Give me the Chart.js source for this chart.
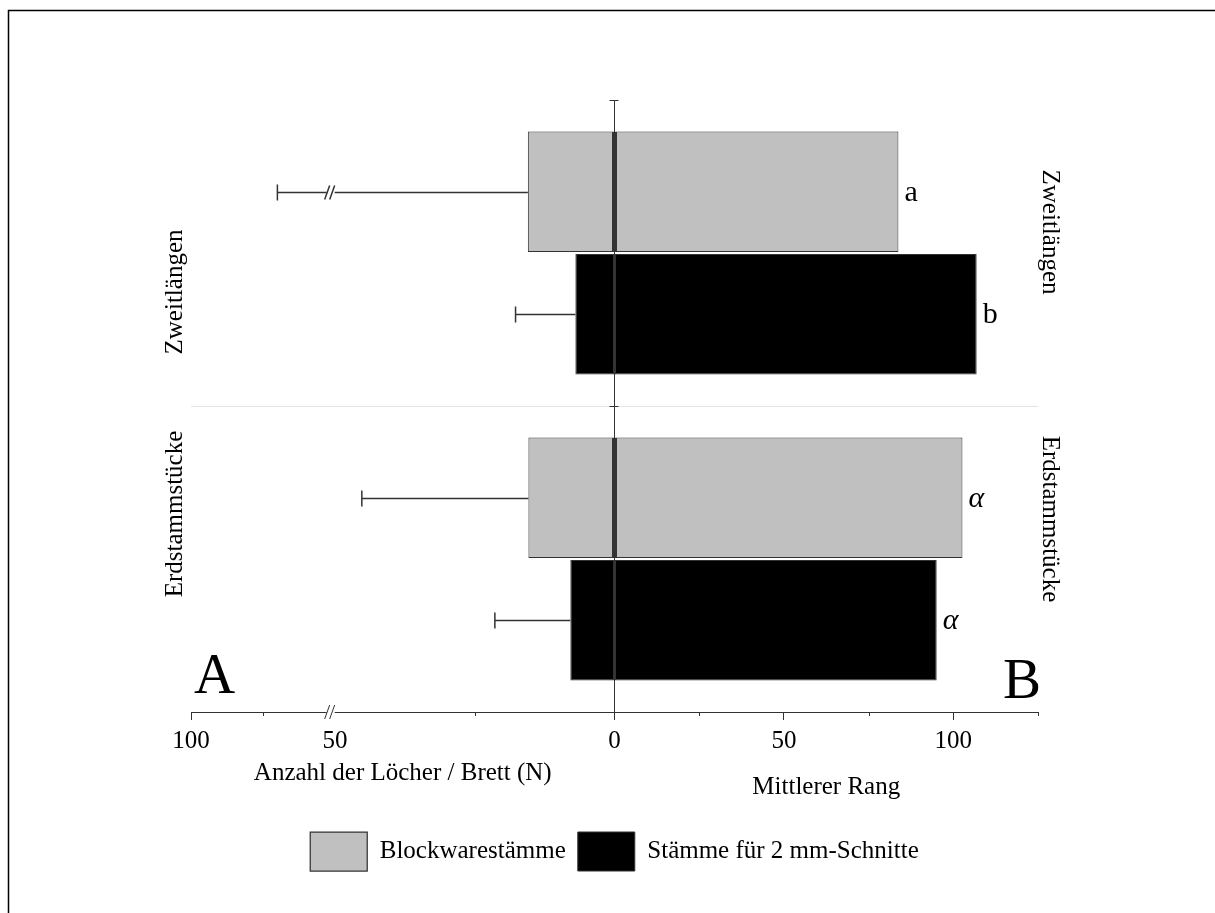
<!DOCTYPE html>
<html>
<head>
<meta charset="utf-8">
<script src="https://cdn.jsdelivr.net/npm/chart.js@4.4.1/dist/chart.umd.min.js"></script>
<style>
  html, body { margin: 0; padding: 0; background: #fff; }
  #wrap { width: 1215px; height: 913px; }
</style>
</head>
<body>
<div id="wrap"><canvas id="chart"></canvas></div>
<script>
// Gruppen
const groups = ["Zweitlängen", "Erdstammstücke"];
const seriesNames = ["Blockwarestämme", "Stämme für 2 mm-Schnitte"];

// links: Anzahl der Löcher / Brett (N), Mittelwert + Fehler
const holesBlock = [15.5, 15.4];
const holesBlockErr = [54.5, 29.8];
const holesSchnitt = [7.0, 7.9];
const holesSchnittErr = [10.7, 13.5];

// rechts: Mittlerer Rang
const rankBlock = [83.8, 102.7];
const rankSchnitt = [106.9, 95.1];

// Buchstaben an den Balken
const lettersBlock = ["a", "α"];
const lettersSchnitt = ["b", "α"];

// Achse (negativ = linke Seite)
const tickValues = [-100, -75, -50, -25, 0, 25, 50, 75, 100, 125];
const tickLabels = ["100", "", "50", "", "0", "", "50", "", "100", ""];
const axisBreak = -50;

const FONT = '"Liberation Serif", "Times New Roman", serif';
const DARK = "#333";

// geknickte Achse: Wert -> Anteil der Breite
const knots = [[-100, 0], [-50, 0.17], [0, 0.5], [125, 1]];
function toDecimal(v) {
  for (let i = 1; i < knots.length; i++) {
    const [v0, d0] = knots[i - 1], [v1, d1] = knots[i];
    if (v <= v1 || i === knots.length - 1) return d0 + (v - v0) / (v1 - v0) * (d1 - d0);
  }
}
function fromDecimal(d) {
  for (let i = 1; i < knots.length; i++) {
    const [v0, d0] = knots[i - 1], [v1, d1] = knots[i];
    if (d <= d1 || i === knots.length - 1) return v0 + (d - d0) / (d1 - d0) * (v1 - v0);
  }
}

class BrokenLinearScale extends Chart.LinearScale {
  getPixelForValue(value) {
    if (value === null || value === undefined || isNaN(value)) return NaN;
    return this.getPixelForDecimal(toDecimal(value));
  }
  getValueForPixel(pixel) {
    return fromDecimal(this.getDecimalForPixel(pixel));
  }
}
BrokenLinearScale.id = "brokenLinear";
BrokenLinearScale.defaults = Chart.LinearScale.defaults;
Chart.register(BrokenLinearScale);

function labelFor(v) {
  const i = tickValues.indexOf(v);
  return i >= 0 && tickLabels[i] ? tickLabels[i] : "";
}

function breakMark(ctx, cx, cy) {
  ctx.fillStyle = "#fff";
  ctx.fillRect(cx - 4, cy - 2, 8, 4);
  ctx.beginPath();
  ctx.moveTo(cx - 6, cy + 7); ctx.lineTo(cx - 1, cy - 7);
  ctx.moveTo(cx - 1, cy + 7); ctx.lineTo(cx + 4, cy - 7);
  ctx.stroke();
}

const decor = {
  id: "decor",
  beforeDraw(chart) {
    const ctx = chart.ctx;
    ctx.save();
    ctx.fillStyle = "#fff";
    ctx.fillRect(0, 0, chart.width, chart.height);
    ctx.strokeStyle = "#000";
    ctx.lineWidth = 1.5;
    ctx.beginPath();
    ctx.moveTo(8.5, chart.height + 2);
    ctx.lineTo(8.5, 10.5);
    ctx.lineTo(chart.width + 2, 10.5);
    ctx.stroke();
    ctx.restore();
  },
  afterDraw(chart) {
    const ctx = chart.ctx;
    const xs = chart.scales.x, ys = chart.scales.y;
    const area = chart.chartArea;
    const x0 = xs.getPixelForValue(0);
    ctx.save();
    ctx.strokeStyle = DARK;
    ctx.lineWidth = 1;

    // kurze Striche
    tickValues.forEach(v => {
      if (labelFor(v) || v === axisBreak) return;
      const px = Math.round(xs.getPixelForValue(v)) + 0.5;
      ctx.beginPath();
      ctx.moveTo(px, area.bottom);
      ctx.lineTo(px, area.bottom + 4);
      ctx.stroke();
    });

    // Querstriche an der Mittelachse
    const yMid = (ys.getPixelForValue(0) + ys.getPixelForValue(1)) / 2;
    [area.top, yMid].forEach(yy => {
      const py = Math.round(yy) + 0.5;
      ctx.beginPath();
      ctx.moveTo(x0 - 5, py);
      ctx.lineTo(x0 + 4, py);
      ctx.stroke();
    });

    // Achsenbruch
    const xb = xs.getPixelForValue(axisBreak - 1.5);
    breakMark(ctx, xb, area.bottom);

    // Fehlerbalken links
    ctx.strokeStyle = DARK;
    ctx.lineWidth = 1.5;
    [[0, holesBlock, holesBlockErr], [2, holesSchnitt, holesSchnittErr]].forEach(([di, means, errs]) => {
      chart.getDatasetMeta(di).data.forEach((bar, i) => {
        const endVal = -(means[i] + errs[i]);
        const xe = xs.getPixelForValue(endVal);
        const yc = Math.round(bar.y) + 0.5;
        ctx.beginPath();
        ctx.moveTo(bar.x, yc);
        ctx.lineTo(xe, yc);
        ctx.moveTo(xe, yc - 8);
        ctx.lineTo(xe, yc + 8);
        ctx.stroke();
        if (endVal < axisBreak) breakMark(ctx, xb, yc);
      });
    });

    // Buchstaben
    ctx.fillStyle = "#000";
    ctx.textBaseline = "alphabetic";
    ctx.textAlign = "left";
    [[1, lettersBlock], [3, lettersSchnitt]].forEach(([di, letters]) => {
      chart.getDatasetMeta(di).data.forEach((bar, i) => {
        const t = letters[i];
        ctx.font = (t === "α" ? "italic " : "") + "30px " + FONT;
        ctx.fillText(t, bar.x + 6, bar.y + 9);
      });
    });

    // Gruppennamen
    ctx.font = "25px " + FONT;
    ctx.textAlign = "center";
    ctx.textBaseline = "middle";
    const leftDy = [39, -45], rightDy = [-21, -40];
    groups.forEach((g, i) => {
      const yc = ys.getPixelForValue(i);
      ctx.save();
      ctx.translate(area.left - 16, yc + leftDy[i]);
      ctx.rotate(-Math.PI / 2);
      ctx.fillText(g, 0, 0);
      ctx.restore();
      ctx.save();
      ctx.translate(area.right + 12, yc + rightDy[i]);
      ctx.rotate(Math.PI / 2);
      ctx.fillText(g, 0, 0);
      ctx.restore();
    });

    // Achsentitel
    ctx.textBaseline = "alphabetic";
    ctx.fillText("Anzahl der Löcher / Brett (N)", (xs.getPixelForValue(-100) + x0) / 2, area.bottom + 68);
    ctx.fillText("Mittlerer Rang", (x0 + xs.getPixelForValue(125)) / 2, area.bottom + 82);

    // Teilbilder
    ctx.font = "57px " + FONT;
    ctx.textAlign = "left";
    ctx.fillText("A", area.left + 3, area.bottom - 19);
    ctx.fillText("B", area.right - 35, area.bottom - 14);
    ctx.restore();
  }
};

const barBase = {
  stack: "",
  borderColor: DARK,
  borderSkipped: false,
  categoryPercentage: 0.8,
  barPercentage: 0.985
};

new Chart(document.getElementById("chart"), {
  type: "bar",
  data: {
    labels: groups,
    datasets: [
      { ...barBase, label: seriesNames[0] + " (Löcher)", stack: "block", data: holesBlock.map(v => -v),
        backgroundColor: "#c0c0c0", borderWidth: { top: 1, bottom: 1, left: 1, right: 2 } },
      { ...barBase, label: seriesNames[0], stack: "block", data: rankBlock,
        backgroundColor: "#c0c0c0", borderWidth: { top: 1, bottom: 1, left: 2, right: 1 } },
      { ...barBase, label: seriesNames[1] + " (Löcher)", stack: "schnitt", data: holesSchnitt.map(v => -v),
        backgroundColor: "#000", borderWidth: 1 },
      { ...barBase, label: seriesNames[1], stack: "schnitt", data: rankSchnitt,
        backgroundColor: "#000", borderWidth: 1 }
    ]
  },
  options: {
    indexAxis: "y",
    responsive: true,
    maintainAspectRatio: false,
    animation: false,
    layout: { padding: { left: 191, right: 177, top: 100, bottom: 32 } },
    scales: {
      x: {
        type: "brokenLinear",
        stacked: true,
        min: -100,
        max: 125,
        afterBuildTicks(scale) {
          scale.ticks = tickValues.map(value => ({ value }));
        },
        afterFit(scale) {
          scale.height = 108;
        },
        ticks: {
          autoSkip: false,
          maxRotation: 0,
          padding: 6,
          color: "#000",
          font: { family: FONT, size: 25 },
          callback: v => labelFor(v)
        },
        grid: {
          drawOnChartArea: false,
          tickLength: 8,
          tickWidth: 1,
          tickColor: c => (c.tick && labelFor(c.tick.value) && c.tick.value !== axisBreak) ? DARK : "rgba(0,0,0,0)"
        },
        border: { display: true, color: DARK, width: 1 }
      },
      y: {
        type: "category",
        position: { x: 0 },
        offset: true,
        ticks: { display: false },
        grid: {
          offset: true,
          drawOnChartArea: true,
          tickLength: 0,
          color: c => c.index === 1 ? "#e4e4e4" : "rgba(0,0,0,0)"
        },
        border: { display: true, color: DARK, width: 1 }
      }
    },
    plugins: {
      tooltip: { enabled: false },
      legend: {
        position: "bottom",
        fullSize: false,
        labels: {
          filter: item => item.datasetIndex % 2 === 1,
          boxWidth: 57,
          boxHeight: 39,
          padding: 12,
          color: "#000",
          font: { family: FONT, size: 25 }
        }
      }
    }
  },
  plugins: [decor]
});
</script>
</body>
</html>
